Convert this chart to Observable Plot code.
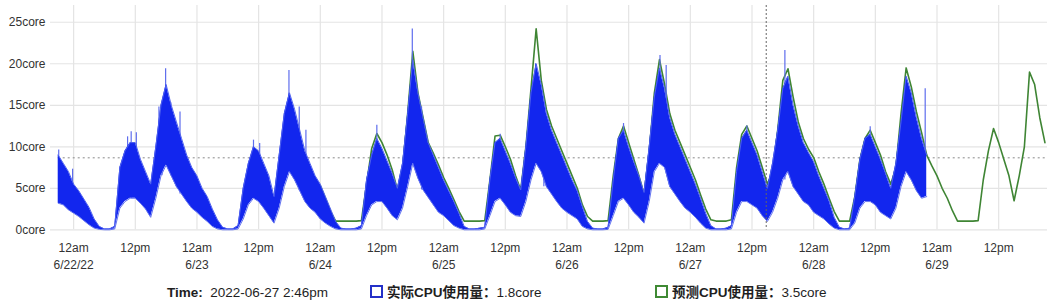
<!DOCTYPE html>
<html>
<head>
<meta charset="utf-8">
<script src="https://cdn.jsdelivr.net/npm/d3@7"></script>
<script src="https://cdn.jsdelivr.net/npm/@observablehq/plot@0.6"></script>
<style>
  body { margin: 0; background: #fff; font-family: "Liberation Sans", Arial, "Noto Sans CJK SC", sans-serif; }
  #wrap { position: relative; width: 1055px; height: 306px; overflow: hidden; }
  #legend { position: absolute; left: 0; top: 280px; width: 1055px; height: 26px; font-size: 13.5px; color: #1e1e1e; }
  .item { position: absolute; top: 5px; white-space: nowrap; line-height: 16px; }
  .box { display: inline-block; width: 9px; height: 9px; border: 2px solid; vertical-align: -1px; margin-right: 4px; background: #fff; }
  .nm { font-weight: bold; }
</style>
</head>
<body>
<div id="wrap">
  <div id="chart"></div>
  <div id="legend"></div>
</div>
<script>
// ---- data (hours since 2022-06-22 00:00) ----
const blueStartHour = -3;
// upper edge of the actual-usage band, one value per hour
const blueHigh = [
  9.0, 8.0, 7.0,
  5.5, 4.7, 3.7, 2.7, 1.3, 0.4, 0.1, 0.1, 0.4, 7.5, 9.5, 10.5, 10.5, 8.5, 7.0, 5.5, 10.0, 15.0, 17.5, 15.0, 13.0, 11.0, 9.0, 7.5,
  6.5, 5.0, 4.0, 2.5, 1.2, 0.3, 0.1, 0.1, 0.5, 5.0, 8.0, 10.0, 9.5, 8.0, 6.5, 4.0, 9.0, 14.0, 16.5, 14.5, 12.0, 9.5, 8.0, 6.5,
  5.5, 4.0, 2.5, 1.0, 0.2, 0.1, 0.1, 0.2, 0.5, 6.0, 9.0, 11.0, 9.8, 8.3, 6.8, 5.0, 8.0, 14.0, 20.5, 16.5, 13.5, 10.5, 9.0, 7.5,
  6.0, 4.7, 3.4, 2.0, 0.4, 0.1, 0.1, 0.2, 0.3, 6.0, 10.5, 11.0, 9.5, 8.0, 6.3, 4.8, 10.0, 16.5, 20.0, 17.5, 14.0, 12.0, 10.5, 9.0,
  7.5, 6.0, 4.7, 2.8, 1.0, 0.2, 0.1, 0.1, 0.3, 6.0, 11.0, 12.0, 10.0, 8.2, 6.5, 4.5, 10.0, 16.0, 19.5, 17.0, 13.5, 11.5, 10.0, 8.5,
  7.0, 5.5, 3.8, 2.0, 0.5, 0.1, 0.1, 0.2, 0.5, 7.0, 11.0, 12.0, 10.5, 9.0, 7.0, 5.0, 8.0, 12.0, 17.0, 18.5, 15.0, 12.5, 10.5, 9.3,
  8.2, 6.5, 5.0, 3.5, 1.5, 0.3, 0.1, 0.2, 4.0, 8.5, 11.0, 11.5, 10.0, 8.5, 6.8, 5.0, 8.0, 13.0, 18.5, 16.5, 13.5, 11.0, 9.0
];
// lower edge of the actual-usage band
const blueLow = [
  3.2, 3.0, 2.4,
  2.0, 1.6, 1.1, 0.6, 0.2, 0.05, 0, 0, 0.1, 2.6, 3.4, 3.8, 3.8, 3.2, 2.5, 1.5, 3.8, 6.5, 7.8, 6.5, 5.2, 4.3, 3.4, 2.6,
  2.1, 1.5, 1.0, 0.4, 0.1, 0, 0, 0, 0.1, 1.3, 3.0, 3.8, 3.4, 2.6, 1.7, 0.8, 2.6, 5.2, 7.0, 6.0, 4.7, 3.4, 2.6, 2.1,
  1.3, 0.8, 0.4, 0.1, 0, 0, 0, 0, 0.1, 1.7, 3.0, 3.4, 3.4, 2.6, 1.7, 1.2, 2.6, 5.2, 8.0, 6.2, 4.8, 3.9, 3.0, 2.1,
  1.7, 1.1, 0.5, 0.2, 0, 0, 0, 0, 0.1, 1.7, 3.4, 3.8, 3.0, 2.1, 1.7, 1.6, 3.4, 6.0, 8.0, 7.0, 5.2, 4.3, 3.4, 2.6,
  2.1, 1.7, 1.3, 0.4, 0.1, 0, 0, 0, 0.05, 1.7, 3.4, 3.8, 3.0, 2.1, 1.5, 0.8, 3.4, 7.0, 8.0, 7.5, 5.2, 4.3, 3.4, 2.6,
  2.1, 1.5, 0.8, 0.2, 0, 0, 0, 0, 0.1, 2.1, 3.4, 3.4, 3.0, 2.6, 1.7, 1.0, 2.1, 3.8, 6.0, 7.0, 5.2, 4.3, 3.4, 3.0,
  2.1, 1.7, 1.3, 0.7, 0.2, 0, 0, 0, 0.8, 2.6, 3.4, 3.4, 3.0, 2.1, 1.7, 1.3, 2.6, 5.2, 7.0, 6.0, 4.7, 3.8, 4.0
];
// thin light-blue spikes above the band: hour and value
const spikeHours  = [-2.9, -0.2, 10.5, 11.2, 12.2, 16.6, 17.2, 17.9, 18.9, 20.7, 35.0, 36.2, 41.9, 43.9, 45.2, 59.0, 65.9, 67.7, 83.0, 89.9, 91.5, 107.0, 114.1, 115.3, 131.0, 138.4, 155.0, 165.7];
const spikeValues = [9.6, 7.3, 11.2, 11.8, 11.7, 14.8, 14.4, 19.4, 15.3, 14.2, 10.8, 10.4, 19.2, 14.8, 12.0, 12.6, 24.2, 14.8, 11.5, 20.0, 14.6, 12.8, 21.0, 19.8, 12.5, 21.6, 12.4, 17.0];

const greenStartHour = 48;
// predicted usage, one value per hour
const green = [
  5.3, 3.8, 2.2, 1.05, 1.05, 1.05, 1.05, 1.05, 1.1, 5.5, 9.8, 11.6, 10.5, 9.0, 7.2, 4.8, 7.5, 14.0, 21.5, 16.5, 13.5, 10.5, 9.2, 7.8,
  6.3, 5.0, 3.6, 2.2, 1.05, 1.05, 1.05, 1.05, 1.1, 6.0, 11.3, 11.4, 10.0, 8.5, 6.5, 4.8, 10.0, 17.0, 24.2, 18.0, 14.5, 12.5, 11.0, 9.5,
  8.0, 6.5, 5.0, 3.0, 1.6, 1.05, 1.05, 1.05, 1.1, 6.5, 11.0, 12.5, 10.5, 8.5, 6.5, 4.3, 9.5, 16.5, 20.5, 17.5, 14.0, 12.0, 10.5, 9.0,
  7.5, 6.0, 4.2, 2.5, 1.2, 1.05, 1.05, 1.05, 1.2, 7.5, 11.5, 12.5, 11.0, 9.5, 7.5, 5.5, 7.0, 12.0, 18.0, 19.4, 16.0, 13.0, 11.0, 9.7,
  8.7, 7.0, 5.5, 3.8, 2.2, 1.05, 1.05, 1.05, 4.0, 8.5, 11.0, 12.0, 10.5, 9.0, 7.0, 5.5, 7.5, 14.0, 19.5, 17.2, 14.2, 11.7, 9.0, 7.7,
  6.5, 5.0, 3.8, 2.3, 1.05, 1.05, 1.05, 1.05, 1.1, 6.0, 9.5, 12.2, 10.5, 8.5, 6.5, 3.5, 6.5, 10.0, 19.0, 17.5, 13.5, 10.5
];

const cursorHour = 134.77;      // 2022-06-27 2:46pm
const referenceLevel = 8.67;    // dotted horizontal guide
const yTicks = [0, 5, 10, 15, 20, 25];
const xTickHours = [0, 12, 24, 36, 48, 60, 72, 84, 96, 108, 120, 132, 144, 156, 168, 180];
const xTickTop = ["12am", "12pm", "12am", "12pm", "12am", "12pm", "12am", "12pm", "12am", "12pm", "12am", "12pm", "12am", "12pm", "12am", "12pm"];
const dateTickHours = [0, 24, 48, 72, 96, 120, 144, 168];
const dateTickLabels = ["6/22/22", "6/23", "6/24", "6/25", "6/26", "6/27", "6/28", "6/29"];

const legendTime = "2022-06-27 2:46pm";
const legendItems = [
  {name: "实际CPU使用量", value: "1.8core", color: "#2430c8"},
  {name: "预测CPU使用量", value: "3.5core", color: "#3f8a34"}
];

// ---- tables ----
const blueRows = blueHigh.map((v, i) => ({h: blueStartHour + i, hi: v, lo: blueLow[i]}));
const greenRows = green.map((v, i) => ({h: greenStartHour + i, v}));
const lowAt = h => blueLow[Math.max(0, Math.min(blueLow.length - 1, Math.round(h - blueStartHour)))];
const spikeRows = spikeHours.map((h, i) => ({h, lo: lowAt(h), hi: spikeValues[i]}));
const topMap = new Map(xTickHours.map((h, i) => [h, xTickTop[i]]));
const dateMap = new Map(dateTickHours.map((h, i) => [h, dateTickLabels[i]]));
const xEnd = greenStartHour + green.length - 1 + 0.5;

const chart = Plot.plot({
  width: 1055,
  height: 280,
  marginLeft: 50,
  marginRight: 8,
  marginTop: 5,
  marginBottom: 50.7,
  x: {domain: [-4.5, xEnd]},
  y: {domain: [0, 27.02]},
  style: {fontFamily: '"Liberation Sans", Arial, sans-serif', fontSize: "12px", color: "#333", background: "#fff", overflow: "visible"},
  marks: [
    Plot.gridY(yTicks, {stroke: "#e4e4e4", strokeOpacity: 1, strokeWidth: 1.2}),
    Plot.gridX(xTickHours, {stroke: "#e4e4e4", strokeOpacity: 1, strokeWidth: 1.2}),
    Plot.axisY(yTicks, {tickSize: 0, tickPadding: 5, tickFormat: d => d + "core", label: null}),
    Plot.axisX(xTickHours, {tickSize: 0, tickPadding: 14, tickFormat: d => topMap.get(d), label: null}),
    Plot.axisX(dateTickHours, {tickSize: 0, tickPadding: 31, tickFormat: d => dateMap.get(d), label: null}),
    Plot.ruleY([referenceLevel], {x1: blueStartHour, x2: xEnd, stroke: "#8a8a8a", strokeWidth: 1, strokeDasharray: "2,3"}),
    Plot.line(greenRows, {x: "h", y: "v", stroke: "#3f8534", strokeWidth: 1.6}),
    Plot.ruleX(spikeRows, {x: "h", y1: "lo", y2: "hi", stroke: "#5e6ded", strokeWidth: 1.2}),
    Plot.areaY(blueRows, {x: "h", y1: "lo", y2: "hi", fill: "#1226ee", curve: "linear"}),
    Plot.line(blueRows, {x: "h", y: "hi", stroke: "#4d60ef", strokeWidth: 1}),
    Plot.line(blueRows, {x: "h", y: "lo", stroke: "#6373f0", strokeWidth: 1}),
    Plot.ruleX([cursorHour], {stroke: "#666", strokeWidth: 1, strokeDasharray: "2,2"})
  ]
});
document.getElementById("chart").appendChild(chart);

// ---- legend ----
const legend = document.getElementById("legend");
const t = document.createElement("div");
t.className = "item";
t.style.left = "167px";
t.innerHTML = "<b>Time:</b>&nbsp; " + legendTime;
legend.appendChild(t);
const lefts = [370, 655];
legendItems.forEach((it, i) => {
  const d = document.createElement("div");
  d.className = "item";
  d.style.left = lefts[i] + "px";
  d.innerHTML = `<span class="box" style="border-color:${it.color}"></span><span class="nm">${it.name}：</span>${it.value}`;
  legend.appendChild(d);
});
</script>
</body>
</html>
